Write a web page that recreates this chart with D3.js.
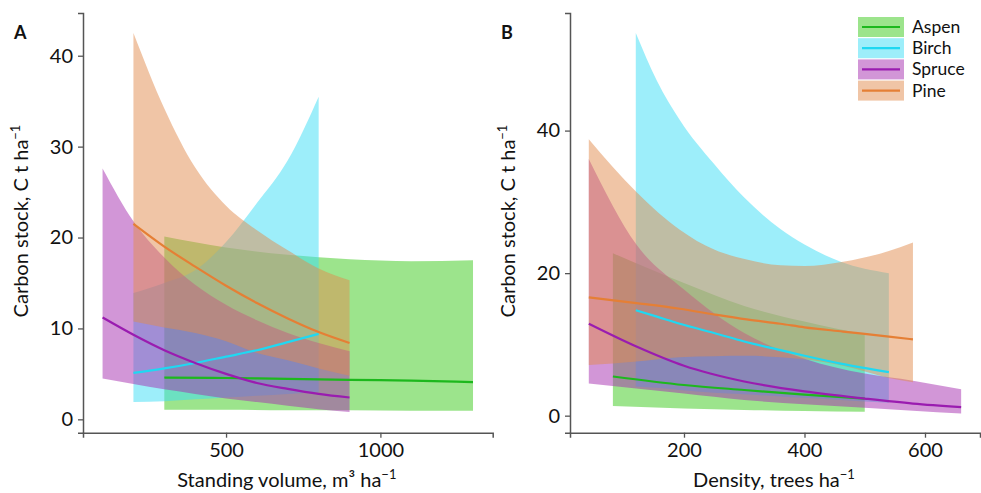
<!DOCTYPE html>
<html>
<head>
<meta charset="utf-8">
<script src="https://cdn.jsdelivr.net/npm/d3@7"></script>
<style>
  html, body { margin: 0; padding: 0; background: #fff; }
  svg { display: block; font-family: Lato, "Open Sans", sans-serif; }
</style>
</head>
<body>
<svg id="chart" width="981" height="493"></svg>
<script>
// Species, in drawing / legend order
const species = ["Aspen", "Birch", "Spruce", "Pine"];
const bandColors = { Aspen: "#39c919", Birch: "#3bddf5", Spruce: "#a52daf", Pine: "#e18b4d" };
const lineColors = { Aspen: "#1db81d", Birch: "#1fd8f2", Spruce: "#9a1cb0", Pine: "#e57f35" };

// Panel A: carbon stock vs standing volume (m3/ha): fitted value and 95% band
const volAspenX     = [300, 500, 700, 900, 1100, 1300];
const volAspenFit   = [4.6, 4.55, 4.45, 4.35, 4.25, 4.1];
const volAspenLow   = [1.05, 1.05, 1.0, 1.0, 0.95, 0.95];
const volAspenHigh  = [20.1, 18.9, 18.1, 17.6, 17.4, 17.5];

const volBirchX     = [200, 300, 400, 500, 600, 700, 800];
const volBirchFit   = [5.1, 5.6, 6.2, 6.9, 7.6, 8.5, 9.4];
const volBirchLow   = [1.9, 2.0, 2.2, 2.4, 2.6, 2.8, 3.0];
const volBirchHigh  = [13.9, 15.0, 16.4, 19.5, 23.8, 28.5, 35.5];

const volSpruceX    = [100, 200, 300, 400, 500, 600, 700, 800, 900];
const volSpruceFit  = [11.2, 9.3, 7.6, 6.2, 5.0, 4.0, 3.35, 2.8, 2.4];
const volSpruceLow  = [4.5, 3.9, 3.3, 2.8, 2.3, 1.9, 1.5, 1.1, 0.8];
const volSpruceHigh = [27.6, 21.8, 17.8, 14.8, 12.6, 10.9, 9.5, 8.4, 7.5];

const volPineX      = [200, 300, 400, 500, 600, 700, 800, 900];
const volPineFit    = [21.5, 19.0, 16.8, 14.7, 12.8, 11.1, 9.6, 8.4];
const volPineLow    = [10.75, 10.1, 9.5, 8.6, 7.3, 6.5, 5.6, 4.8];
const volPineHigh   = [42.5, 34.2, 27.7, 23.5, 20.8, 18.6, 16.6, 15.3];

// Panel B: carbon stock vs stand density (trees/ha)
const denAspenX     = [82, 200, 300, 400, 500];
const denAspenFit   = [5.5, 4.3, 3.6, 2.95, 2.4];
const denAspenLow   = [1.35, 1.0, 0.8, 0.65, 0.55];
const denAspenHigh  = [22.8, 18.6, 15.4, 13.2, 11.4];

const denBirchX     = [120, 155, 193, 250, 300, 360, 400, 460, 540];
const denBirchFit   = [14.8, 13.9, 12.9, 11.6, 10.4, 9.2, 8.4, 7.3, 6.1];
const denBirchLow   = [4.1, 3.9, 3.6, 3.2, 3.0, 2.7, 2.5, 2.2, 1.8];
const denBirchHigh  = [53.7, 47.0, 41.5, 35.3, 30.6, 26.2, 24.0, 21.6, 20.0];

const denSpruceX    = [42, 121, 200, 300, 400, 500, 580, 660];
const denSpruceFit  = [12.9, 9.7, 7.0, 4.8, 3.4, 2.4, 1.7, 1.2];
const denSpruceLow  = [4.5, 3.8, 3.1, 2.2, 1.6, 1.1, 0.7, 0.3];
const denSpruceHigh = [36.0, 24.0, 17.7, 11.6, 8.0, 5.9, 4.9, 3.7];

const denPineX      = [42, 121, 193, 250, 304, 360, 400, 464, 540, 580];
const denPineFit    = [16.6, 15.8, 15.0, 14.2, 13.5, 12.9, 12.4, 11.8, 11.1, 10.7];
const denPineLow    = [7.1, 7.6, 8.2, 8.35, 8.4, 8.2, 7.9, 7.0, 5.3, 4.7];
const denPineHigh   = [38.8, 31.4, 26.1, 23.3, 21.9, 21.1, 21.0, 21.6, 23.1, 24.3];

// Axis ticks
const volTicksX = [500, 1000];
const volTicksY = [0, 10, 20, 30, 40];
const denTicksX = [200, 400, 600];
const denTicksY = [0, 20, 40];

function rows(x, fit, low, high) {
  return x.map((v, i) => ({ x: v, fit: fit[i], low: low[i], high: high[i] }));
}

const panels = [
  {
    tag: "A",
    left: 83, right: 492.7,
    xDomain: [36.6, 1363.8], yDomain: [-1.47, 44.7],
    xTicks: volTicksX, yTicks: volTicksY,
    xLabel: ["Standing volume, m³ ha", "−1"],
    series: {
      Aspen: rows(volAspenX, volAspenFit, volAspenLow, volAspenHigh),
      Birch: rows(volBirchX, volBirchFit, volBirchLow, volBirchHigh),
      Spruce: rows(volSpruceX, volSpruceFit, volSpruceLow, volSpruceHigh),
      Pine: rows(volPineX, volPineFit, volPineLow, volPineHigh)
    }
  },
  {
    tag: "B",
    left: 570, right: 980,
    xDomain: [10.8, 691.3], yDomain: [-2.39, 56.5],
    xTicks: denTicksX, yTicks: denTicksY,
    xLabel: ["Density, trees ha", "−1"],
    series: {
      Aspen: rows(denAspenX, denAspenFit, denAspenLow, denAspenHigh),
      Birch: rows(denBirchX, denBirchFit, denBirchLow, denBirchHigh),
      Spruce: rows(denSpruceX, denSpruceFit, denSpruceLow, denSpruceHigh),
      Pine: rows(denPineX, denPineFit, denPineLow, denPineHigh)
    }
  }
];

const svg = d3.select("#chart");
const plotTop = 13, plotBottom = 432.7;
const axisColor = "#555";
const fontSize = 20;

panels.forEach(p => {
  const x = d3.scaleLinear().domain(p.xDomain).range([p.left, p.right]);
  const y = d3.scaleLinear().domain(p.yDomain).range([plotBottom, plotTop]);
  const g = svg.append("g");

  const area = d3.area()
    .x(d => x(d.x)).y0(d => y(d.low)).y1(d => y(d.high))
    .curve(d3.curveMonotoneX);
  const line = d3.line()
    .x(d => x(d.x)).y(d => y(d.fit))
    .curve(d3.curveMonotoneX);

  // confidence bands
  species.forEach(s => {
    g.append("path")
      .datum(p.series[s])
      .attr("d", area)
      .attr("fill", bandColors[s])
      .attr("fill-opacity", 0.5);
  });
  // fitted curves
  species.forEach(s => {
    g.append("path")
      .datum(p.series[s])
      .attr("d", line)
      .attr("fill", "none")
      .attr("stroke", lineColors[s])
      .attr("stroke-width", 2.2);
  });

  // axes
  const xAxis = g.append("g")
    .attr("transform", `translate(0,${plotBottom})`)
    .call(d3.axisBottom(x).tickValues(p.xTicks).tickSize(5).tickPadding(5).tickFormat(d3.format("d")));
  const yAxis = g.append("g")
    .attr("transform", `translate(${p.left},0)`)
    .call(d3.axisLeft(y).tickValues(p.yTicks).tickSize(5).tickPadding(5).tickFormat(d3.format("d")));
  [xAxis, yAxis].forEach(a => {
    a.select(".domain").attr("stroke", axisColor).attr("stroke-width", 1.5);
    a.selectAll(".tick line").attr("stroke", axisColor).attr("stroke-width", 1.3);
    a.selectAll(".tick text")
      .attr("fill", "#111")
      .style("font-family", "Lato, 'Open Sans', sans-serif")
      .attr("font-size", fontSize);
  });

  // x axis title
  const xt = g.append("text")
    .attr("x", (p.left + p.right) / 2 - 1)
    .attr("y", 487)
    .attr("text-anchor", "middle")
    .attr("font-size", fontSize)
    .attr("fill", "#111");
  xt.append("tspan").text(p.xLabel[0]);
  xt.append("tspan").attr("dy", -8).attr("font-size", 13).text(p.xLabel[1]);

  // y axis title
  const yt = g.append("text")
    .attr("transform", `translate(${p.left - 55},${221}) rotate(-90)`)
    .attr("text-anchor", "middle")
    .attr("font-size", fontSize)
    .attr("fill", "#111");
  yt.append("tspan").text("Carbon stock, C t ha");
  yt.append("tspan").attr("dy", -8).attr("font-size", 13).text("−1");

  // panel tag
  g.append("text")
    .attr("x", p.left - 69)
    .attr("y", 39)
    .attr("font-size", 18)
    .attr("font-weight", "bold")
    .attr("fill", "#111")
    .text(p.tag);
});

// legend
const legend = svg.append("g").attr("transform", "translate(858,17)");
species.forEach((s, i) => {
  const row = legend.append("g").attr("transform", `translate(0,${i * 21.2})`);
  row.append("rect")
    .attr("width", 46).attr("height", 20)
    .attr("fill", bandColors[s]).attr("fill-opacity", 0.5);
  row.append("line")
    .attr("x1", 4).attr("x2", 42).attr("y1", 10).attr("y2", 10)
    .attr("stroke", lineColors[s]).attr("stroke-width", 2.2);
  row.append("text")
    .attr("x", 54).attr("y", 16)
    .attr("font-size", 17.5)
    .attr("fill", "#111")
    .text(s);
});
</script>
</body>
</html>
